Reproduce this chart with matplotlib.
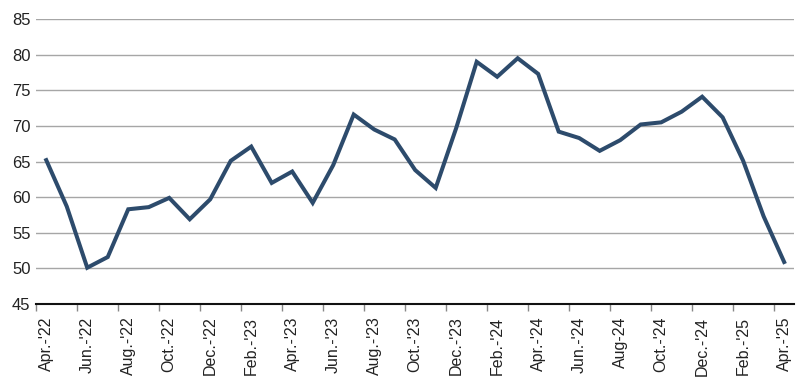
import numpy as np
import matplotlib.pyplot as plt
from matplotlib import font_manager

# monthly values Apr 2022 - Apr 2025
values = [65.2, 58.7, 50.1, 51.6, 58.3, 58.6, 59.9, 56.9, 59.7, 65.1,
          67.1, 62.0, 63.6, 59.2, 64.5, 71.6, 69.5, 68.1, 63.8, 61.3,
          69.7, 79.0, 76.9, 79.5, 77.3, 69.2, 68.3, 66.5, 68.0, 70.2,
          70.5, 72.0, 74.1, 71.2, 65.1, 57.3, 50.9]
tick_labels = ["Apr.-'22", "Jun.-'22", "Aug.-'22", "Oct.-'22", "Dec.-'22",
               "Feb.-'23", "Apr.-'23", "Jun.-'23", "Aug.-'23", "Oct.-'23",
               "Dec.-'23", "Feb.-'24", "Apr.-'24", "Jun.-'24", "Aug-24",
               "Oct.-'24", "Dec.-'24", "Feb.-'25", "Apr.-'25"]
y_ticks = [45, 50, 55, 60, 65, 70, 75, 80, 85]

names = {f.name for f in font_manager.fontManager.ttflist}
narrow = 'Liberation Sans Narrow' in names

x = np.arange(len(values))

fig = plt.figure(figsize=(8, 3.81), dpi=100)
ax = fig.add_axes([0.045, 0.202, 0.948, 0.748])

ax.plot(x, values, color='#2d4b6c', lw=2.9, solid_joinstyle='miter', zorder=3)

ax.set_xlim(-0.5, len(values) - 0.5)
ax.set_ylim(45, 85)

for yv in y_ticks[1:]:
    ax.axhline(yv, color='#a6a6a6', lw=1.0, zorder=1)

ax.set_yticks(y_ticks)
ax.set_yticklabels([str(v) for v in y_ticks], family='Liberation Sans', fontsize=12, color='#222222')
ax.tick_params(axis='y', length=0, pad=4)

# ticks at category boundaries, labels at category centres
ax.set_xticks(np.arange(-0.5, len(values) - 0.5, 2))
ax.set_xticklabels([])
ax.tick_params(axis='x', which='major', length=5, color='#888888', width=1)
ax.set_xticks(x[::2], minor=True)
if narrow:
    ax.set_xticklabels(tick_labels, minor=True, rotation=90,
                       family='Liberation Sans Narrow', fontsize=13, color='#222222')
else:
    ax.set_xticklabels(tick_labels, minor=True, rotation=90,
                       family='Liberation Sans', fontsize=11.5, color='#222222',
                       fontstretch='condensed')
ax.tick_params(axis='x', which='minor', length=0, pad=9)

for s in ['top', 'right', 'left']:
    ax.spines[s].set_visible(False)
ax.spines['bottom'].set_color('#111111')
ax.spines['bottom'].set_linewidth(1.5)
ax.spines['bottom'].set_zorder(4)

fig.savefig('out.png', dpi=100)
